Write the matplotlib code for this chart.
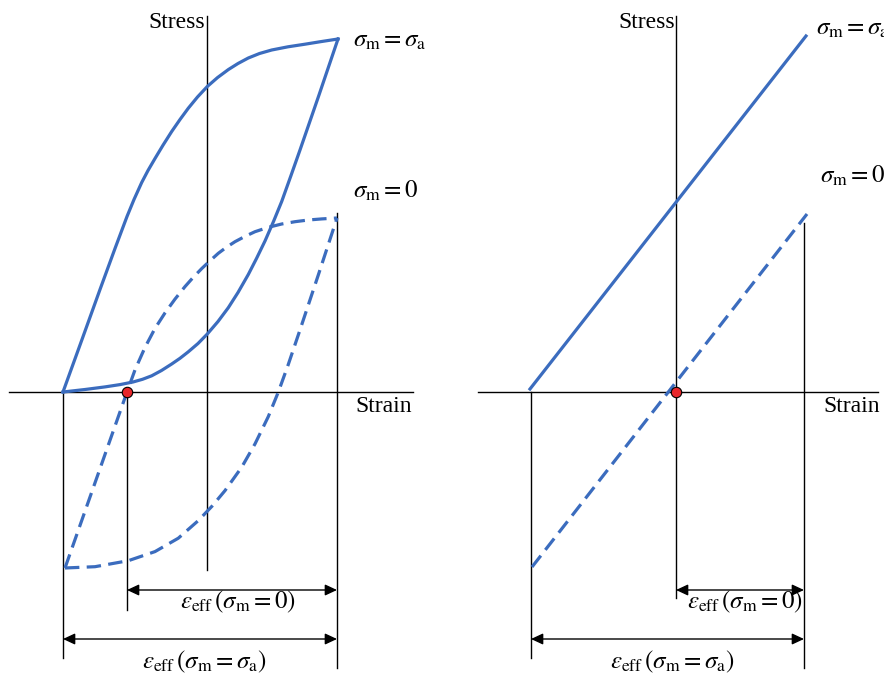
import matplotlib
matplotlib.use("Agg")
import matplotlib.pyplot as plt

plt.rcParams['font.family'] = ['Liberation Serif', 'DejaVu Serif']
plt.rcParams['mathtext.fontset'] = 'stix'

BLUE = '#3b6cbe'

# schematic units (1 unit = 100 px), origin where the Stress/Strain axes cross

# --- left panel: hysteresis loops ---
# sigma_m = sigma_a, solid loop
loop_a_up_strain = [-1.44, -1.25, -1.07, -0.92, -0.80, -0.73, -0.653, -0.59, -0.52, -0.44, -0.353,
                    -0.27, -0.187, -0.095, 0.003, 0.105, 0.213, 0.31, 0.413, 0.525, 0.647,
                    0.81, 0.98, 1.14, 1.31]
loop_a_up_stress = [0.00, 0.525, 1.025, 1.435, 1.755, 1.925, 2.095, 2.215, 2.335, 2.468, 2.605,
                    2.725, 2.838, 2.95, 3.055, 3.144, 3.224, 3.285, 3.34, 3.385, 3.42,
                    3.452, 3.478, 3.504, 3.53]
loop_a_lo_strain = [-1.44, -1.22, -1.02, -0.87, -0.74, -0.645, -0.553, -0.455, -0.353, -0.27,
                    -0.187, -0.09, 0.003, 0.11, 0.213, 0.31, 0.413, 0.495, 0.58, 0.665,
                    0.747, 0.84, 0.93, 1.12, 1.31]
loop_a_lo_stress = [0.00, 0.025, 0.051, 0.074, 0.10, 0.127, 0.162, 0.215, 0.28, 0.337,
                    0.402, 0.485, 0.58, 0.705, 0.843, 0.995, 1.175, 1.335, 1.51, 1.705,
                    1.905, 2.165, 2.42, 2.97, 3.53]

# sigma_m = 0, dashed loop
loop_0_up_strain = [-1.42, -1.11, -0.80, -0.72, -0.62, -0.52, -0.42, -0.32, -0.22, -0.14,
                    -0.053, 0.03, 0.113, 0.195, 0.28, 0.38, 0.48, 0.61, 0.747, 0.88,
                    1.013, 1.15, 1.30]
loop_0_up_stress = [-1.76, -0.88, 0.00, 0.221, 0.446, 0.636, 0.791, 0.929, 1.054, 1.144,
                    1.234, 1.312, 1.387, 1.448, 1.503, 1.556, 1.603, 1.646, 1.68, 1.703,
                    1.72, 1.731, 1.74]
loop_0_lo_strain = [-1.42, -1.12, -0.787, -0.52, -0.287, -0.087, 0.05, 0.18, 0.347, 0.48,
                    0.613, 0.713, 0.81, 0.93, 1.113, 1.30]
loop_0_lo_stress = [-1.76, -1.747, -1.687, -1.596, -1.462, -1.286, -1.142, -0.986, -0.752, -0.519,
                    -0.246, -0.001, 0.267, 0.621, 1.17, 1.74]

left_dot = (-0.80, 0.00)
# reference lines: (strain, stress from, stress to)
left_vlines = [(-1.44, 0.00, -2.66), (-0.80, 0.00, -2.18), (1.30, 1.79, -2.76)]
left_axis_x = (-1.98, 2.06)
left_axis_y = (-1.78, 3.76)
left_arrows = [(-0.80, 1.30, -1.98), (-1.44, 1.30, -2.47)]

# --- right panel: linear elastic ---
lin_a_strain = [-1.46, 1.30]
lin_a_stress = [0.03, 3.56]
lin_0_strain = [-1.44, 1.31]
lin_0_stress = [-1.75, 1.78]

right_dot = (0.00, 0.00)
right_vlines = [(-1.45, 0.00, -2.66), (1.28, 1.69, -2.76)]
right_axis_x = (-1.98, 2.02)
right_axis_y = (-2.06, 3.76)
right_arrows = [(0.00, 1.28, -1.98), (-1.45, 1.28, -2.47)]

LBL_A = r'$\sigma_{\rm m} = \sigma_{\rm a}$'
LBL_0 = r'$\sigma_{\rm m} = 0$'
EPS_0 = r'$\varepsilon_{\rm eff}\,(\sigma_{\rm m} = 0)$'
EPS_A = r'$\varepsilon_{\rm eff}\,(\sigma_{\rm m} = \sigma_{\rm a})$'


def frame(ax, xlim, axis_x, axis_y, vlines, arrows, dot):
    ax.set_xlim(*xlim)
    ax.set_ylim(-2.85, 3.92)
    ax.axis('off')
    ax.plot(axis_x, [0, 0], color='black', lw=1.0, zorder=1)
    ax.plot([0, 0], axis_y, color='black', lw=1.0, zorder=1)
    for x, y0, y1 in vlines:
        ax.plot([x, x], [y0, y1], color='black', lw=1.0, zorder=1)
    for x0, x1, y in arrows:
        ax.annotate('', xy=(x1, y), xytext=(x0, y),
                    arrowprops=dict(arrowstyle='<|-|>,head_length=0.6,head_width=0.28',
                                    mutation_scale=12, color='black', lw=1.0,
                                    shrinkA=0, shrinkB=0))
    ax.plot(*dot, 'o', ms=7.5, mfc='#e8262a', mec='black', mew=0.8, zorder=5)


fig = plt.figure(figsize=(8.84, 6.77), dpi=100)

ax1 = fig.add_axes([0, 0, 0.5, 1])
frame(ax1, (-2.07, 2.35), left_axis_x, left_axis_y, left_vlines, left_arrows, left_dot)
ax1.plot(loop_a_up_strain, loop_a_up_stress, color=BLUE, lw=2.3, zorder=3, solid_joinstyle='round')
ax1.plot(loop_a_lo_strain, loop_a_lo_stress, color=BLUE, lw=2.3, zorder=3, solid_joinstyle='round')
ax1.plot(loop_0_up_strain, loop_0_up_stress, color=BLUE, lw=2.3, dashes=(4.5, 2.3), zorder=3)
ax1.plot(loop_0_lo_strain, loop_0_lo_stress, color=BLUE, lw=2.3, dashes=(4.5, 2.3), zorder=3)
ax1.text(-0.02, 3.64, 'Stress', fontsize=17, ha='right', va='baseline')
ax1.text(1.48, -0.20, 'Strain', fontsize=17, ha='left', va='baseline')
ax1.text(1.46, 3.45, LBL_A, fontsize=18, ha='left', va='baseline')
ax1.text(1.46, 1.94, LBL_0, fontsize=18, ha='left', va='baseline')
ax1.text(0.31, -2.16, EPS_0, fontsize=18, ha='center', va='baseline')
ax1.text(-0.03, -2.76, EPS_A, fontsize=18, ha='center', va='baseline')

ax2 = fig.add_axes([0.5, 0, 0.5, 1])
frame(ax2, (-2.34, 2.08), right_axis_x, right_axis_y, right_vlines, right_arrows, right_dot)
ax2.plot(lin_a_strain, lin_a_stress, color=BLUE, lw=2.3, zorder=3)
ax2.plot(lin_0_strain, lin_0_stress, color=BLUE, lw=2.3, dashes=(4.5, 2.3), zorder=3)
ax2.text(-0.01, 3.64, 'Stress', fontsize=17, ha='right', va='baseline')
ax2.text(1.47, -0.20, 'Strain', fontsize=17, ha='left', va='baseline')
# the reference cuts this label at the right edge of the figure
ax2.text(1.40, 3.57, LBL_A, fontsize=18, ha='left', va='baseline', clip_on=False)
ax2.text(1.44, 2.09, LBL_0, fontsize=18, ha='left', va='baseline')
ax2.text(0.69, -2.16, EPS_0, fontsize=18, ha='center', va='baseline')
ax2.text(-0.04, -2.76, EPS_A, fontsize=18, ha='center', va='baseline')

fig.savefig('out.png', dpi=100)
